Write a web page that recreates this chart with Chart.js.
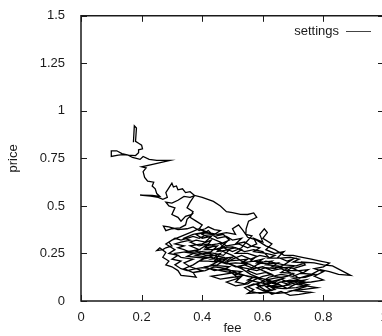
<!DOCTYPE html>
<html>
<head>
<meta charset="utf-8">
<script src="https://cdn.jsdelivr.net/npm/chart.js@4"></script>
<style>
  html, body { margin: 0; padding: 0; background: #fff; overflow: hidden; width: 382px; height: 336px; }
  #wrap { width: 400px; height: 336px; }
</style>
</head>
<body>
<div id="wrap"><canvas id="chart" width="400" height="336"></canvas></div>
<script>
// axis ticks
const feeTicks = [0, 0.2, 0.4, 0.6, 0.8, 1];
const priceTicks = [0, 0.25, 0.5, 0.75, 1, 1.25, 1.5];
const seriesName = 'settings';

// trajectory, [fee, price]
const topPath = [
    [0.173, 0.835], [0.176, 0.922], [0.183, 0.91], [0.18, 0.84], [0.19, 0.83], [0.20, 0.82],
    [0.203, 0.80], [0.19, 0.795], [0.19, 0.78], [0.18, 0.765], [0.156, 0.767], [0.14, 0.77],
    [0.123, 0.767], [0.10, 0.76], [0.10, 0.79], [0.118, 0.79], [0.135, 0.775], [0.156, 0.767],
    [0.17, 0.755], [0.195, 0.745], [0.205, 0.76], [0.225, 0.745], [0.25, 0.74], [0.294, 0.74],
    [0.24, 0.72], [0.20, 0.706], [0.215, 0.70], [0.205, 0.68], [0.21, 0.65], [0.22, 0.63],
    [0.24, 0.625], [0.235, 0.605], [0.245, 0.59], [0.25, 0.565], [0.26, 0.55], [0.235, 0.555],
    [0.195, 0.557], [0.23, 0.552], [0.255, 0.545], [0.27, 0.535], [0.285, 0.545], [0.28, 0.57],
    [0.29, 0.595], [0.30, 0.62], [0.305, 0.60], [0.315, 0.605], [0.32, 0.585], [0.335, 0.59],
    [0.345, 0.57], [0.36, 0.575], [0.375, 0.555], [0.36, 0.545], [0.34, 0.55], [0.32, 0.53],
    [0.30, 0.515], [0.28, 0.52], [0.29, 0.50]
];
const midPath = [
    [0.31, 0.49], [0.30, 0.455], [0.32, 0.44], [0.33, 0.42], [0.345, 0.445], [0.366, 0.455],
    [0.35, 0.43], [0.345, 0.40], [0.327, 0.385], [0.30, 0.38], [0.28, 0.37], [0.272, 0.394],
    [0.29, 0.39], [0.32, 0.375], [0.35, 0.38], [0.37, 0.39], [0.39, 0.37], [0.41, 0.38],
    [0.42, 0.39], [0.44, 0.375], [0.46, 0.37], [0.44, 0.35], [0.41, 0.345], [0.39, 0.33],
    [0.37, 0.34], [0.35, 0.33], [0.33, 0.32], [0.31, 0.33], [0.29, 0.31]
];
const cloudPath = [
    [0.30, 0.29], [0.28, 0.28], [0.27, 0.27], [0.25, 0.265], [0.26, 0.28], [0.28, 0.255],
    [0.27, 0.23], [0.29, 0.21], [0.28, 0.19], [0.30, 0.18], [0.32, 0.16], [0.33, 0.135],
    [0.36, 0.13], [0.38, 0.125], [0.37, 0.15], [0.40, 0.16], [0.36, 0.18], [0.34, 0.20],
    [0.37, 0.22], [0.33, 0.23], [0.31, 0.25], [0.35, 0.26], [0.39, 0.27], [0.36, 0.29],
    [0.40, 0.30], [0.43, 0.32], [0.41, 0.28], [0.45, 0.29], [0.43, 0.26], [0.38, 0.24],
    [0.42, 0.23], [0.46, 0.25], [0.44, 0.21], [0.48, 0.22], [0.45, 0.19], [0.41, 0.18],
    [0.44, 0.16], [0.48, 0.17], [0.51, 0.15], [0.47, 0.14], [0.43, 0.13], [0.46, 0.115],
    [0.50, 0.125], [0.53, 0.13], [0.51, 0.10], [0.54, 0.09], [0.56, 0.11], [0.59, 0.095],
    [0.55, 0.075], [0.57, 0.06], [0.55, 0.04], [0.60, 0.045], [0.63, 0.055], [0.61, 0.075],
    [0.65, 0.085], [0.62, 0.10], [0.66, 0.115], [0.69, 0.095], [0.72, 0.085], [0.78, 0.07],
    [0.73, 0.06], [0.70, 0.055], [0.76, 0.045], [0.72, 0.035], [0.69, 0.03], [0.66, 0.05],
    [0.63, 0.035], [0.60, 0.065], [0.58, 0.085], [0.62, 0.125], [0.66, 0.14], [0.70, 0.13],
    [0.73, 0.15], [0.70, 0.17], [0.74, 0.19], [0.73, 0.205], [0.77, 0.20], [0.80, 0.19],
    [0.83, 0.185], [0.86, 0.16], [0.89, 0.135], [0.85, 0.14], [0.82, 0.155], [0.79, 0.165],
    [0.76, 0.14], [0.72, 0.12], [0.69, 0.15], [0.66, 0.17], [0.63, 0.16], [0.60, 0.18],
    [0.57, 0.17], [0.54, 0.19], [0.51, 0.18], [0.48, 0.20], [0.50, 0.22], [0.53, 0.24],
    [0.56, 0.22], [0.59, 0.24], [0.62, 0.23], [0.60, 0.26], [0.57, 0.27], [0.54, 0.26],
    [0.51, 0.28], [0.48, 0.27], [0.46, 0.30], [0.49, 0.32], [0.47, 0.35], [0.44, 0.34],
    [0.42, 0.37], [0.40, 0.35], [0.43, 0.33], [0.46, 0.31], [0.48, 0.29], [0.52, 0.30],
    [0.55, 0.28], [0.58, 0.30], [0.57, 0.33], [0.60, 0.31], [0.59, 0.35], [0.605, 0.38],
    [0.615, 0.36], [0.60, 0.33], [0.63, 0.30], [0.61, 0.27], [0.64, 0.25], [0.67, 0.26],
    [0.65, 0.23], [0.68, 0.21], [0.70, 0.22], [0.67, 0.19], [0.64, 0.20], [0.61, 0.21],
    [0.58, 0.19], [0.55, 0.16], [0.58, 0.14], [0.61, 0.15], [0.64, 0.13], [0.67, 0.12],
    [0.64, 0.10], [0.61, 0.09], [0.64, 0.07], [0.67, 0.08], [0.70, 0.10], [0.74, 0.11],
    [0.71, 0.09], [0.68, 0.065], [0.65, 0.09], [0.62, 0.11], [0.59, 0.12], [0.56, 0.14],
    [0.53, 0.17], [0.50, 0.19], [0.46, 0.21], [0.43, 0.23], [0.40, 0.22], [0.37, 0.19],
    [0.34, 0.17], [0.37, 0.15], [0.41, 0.16], [0.44, 0.18], [0.48, 0.17], [0.52, 0.12],
    [0.48, 0.10], [0.51, 0.08], [0.55, 0.09], [0.57, 0.11], [0.60, 0.13], [0.63, 0.14],
    [0.60, 0.16], [0.56, 0.19], [0.53, 0.21], [0.50, 0.24], [0.47, 0.26], [0.45, 0.27],
    [0.47, 0.28], [0.50, 0.26], [0.53, 0.28], [0.54, 0.30], [0.564, 0.342], [0.544, 0.35],
    [0.545, 0.38], [0.553, 0.42], [0.58, 0.44], [0.57, 0.463], [0.55, 0.455], [0.526, 0.456],
    [0.50, 0.465], [0.48, 0.47], [0.46, 0.50], [0.437, 0.524], [0.40, 0.545], [0.375, 0.555]
];
const densePath = [
    [0.36, 0.52], [0.35, 0.49], [0.37, 0.47], [0.36, 0.44], [0.38, 0.42], [0.40, 0.40],
    [0.39, 0.38], [0.41, 0.36], [0.38, 0.35], [0.40, 0.33], [0.43, 0.34], [0.41, 0.31],
    [0.38, 0.32], [0.36, 0.31], [0.39, 0.29], [0.42, 0.30], [0.44, 0.29], [0.41, 0.27],
    [0.44, 0.27], [0.47, 0.285], [0.45, 0.26], [0.49, 0.27], [0.47, 0.24], [0.44, 0.25],
    [0.40, 0.26], [0.35, 0.255], [0.39, 0.245], [0.42, 0.25], [0.45, 0.235], [0.43, 0.22],
    [0.47, 0.225], [0.50, 0.23], [0.48, 0.21], [0.52, 0.215], [0.55, 0.22], [0.53, 0.20],
    [0.57, 0.21], [0.60, 0.22], [0.58, 0.20], [0.62, 0.195], [0.65, 0.20], [0.63, 0.18],
    [0.67, 0.175], [0.70, 0.18], [0.68, 0.16], [0.72, 0.16], [0.75, 0.165], [0.73, 0.145],
    [0.77, 0.14], [0.74, 0.125], [0.70, 0.12], [0.73, 0.105], [0.69, 0.11], [0.66, 0.10],
    [0.69, 0.085], [0.65, 0.075], [0.62, 0.08], [0.64, 0.06], [0.60, 0.055], [0.58, 0.07],
    [0.61, 0.09], [0.58, 0.10], [0.55, 0.11], [0.57, 0.125], [0.54, 0.135], [0.51, 0.14],
    [0.53, 0.155], [0.50, 0.16], [0.47, 0.165], [0.49, 0.18], [0.46, 0.185], [0.43, 0.19],
    [0.45, 0.205], [0.42, 0.21], [0.39, 0.21], [0.41, 0.225], [0.38, 0.23], [0.35, 0.235],
    [0.37, 0.25], [0.34, 0.27], [0.32, 0.28], [0.34, 0.29], [0.31, 0.30], [0.33, 0.31],
    [0.36, 0.32], [0.34, 0.33], [0.37, 0.35], [0.40, 0.36], [0.43, 0.355], [0.45, 0.33],
    [0.48, 0.34], [0.50, 0.32], [0.53, 0.33], [0.51, 0.30], [0.54, 0.31], [0.56, 0.29],
    [0.59, 0.28], [0.57, 0.26], [0.61, 0.25], [0.64, 0.24], [0.62, 0.225], [0.66, 0.225],
    [0.69, 0.23], [0.72, 0.22], [0.70, 0.205], [0.74, 0.20], [0.71, 0.185], [0.67, 0.19],
    [0.64, 0.17], [0.61, 0.175], [0.58, 0.16], [0.55, 0.17], [0.52, 0.18], [0.55, 0.195],
    [0.51, 0.20], [0.48, 0.195], [0.45, 0.21], [0.47, 0.23], [0.44, 0.24], [0.41, 0.24],
    [0.38, 0.26], [0.41, 0.29], [0.45, 0.30], [0.48, 0.31], [0.46, 0.28], [0.50, 0.285],
    [0.53, 0.27], [0.51, 0.25], [0.55, 0.25], [0.58, 0.235], [0.56, 0.21], [0.60, 0.205],
    [0.63, 0.21], [0.61, 0.19], [0.65, 0.185], [0.68, 0.17], [0.66, 0.15], [0.70, 0.145],
    [0.68, 0.13], [0.64, 0.12], [0.61, 0.11], [0.63, 0.095], [0.60, 0.08], [0.57, 0.09],
    [0.54, 0.07], [0.56, 0.05], [0.59, 0.04], [0.62, 0.045], [0.65, 0.04], [0.68, 0.045],
    [0.71, 0.06], [0.74, 0.075], [0.71, 0.10], [0.67, 0.105], [0.64, 0.09], [0.61, 0.10],
    [0.58, 0.12], [0.55, 0.13], [0.52, 0.145], [0.49, 0.15], [0.46, 0.16], [0.43, 0.17],
    [0.40, 0.175], [0.38, 0.17], [0.35, 0.16], [0.33, 0.17], [0.31, 0.19], [0.33, 0.21],
    [0.30, 0.22], [0.32, 0.24], [0.29, 0.25], [0.31, 0.27], [0.28, 0.30], [0.30, 0.32],
    [0.33, 0.34], [0.36, 0.36], [0.39, 0.38], [0.42, 0.36], [0.45, 0.35], [0.48, 0.36],
    [0.51, 0.35], [0.50, 0.38], [0.52, 0.40], [0.535, 0.37], [0.55, 0.335], [0.58, 0.32],
    [0.61, 0.29], [0.64, 0.27], [0.67, 0.24], [0.70, 0.24], [0.73, 0.23], [0.76, 0.22],
    [0.79, 0.21], [0.82, 0.20], [0.80, 0.18], [0.77, 0.17], [0.80, 0.155], [0.77, 0.13],
    [0.80, 0.11], [0.76, 0.10], [0.72, 0.095], [0.75, 0.085], [0.71, 0.07], [0.67, 0.065],
    [0.63, 0.07], [0.60, 0.10]
];

const points = topPath.concat(midPath, cloudPath, densePath).map(p => ({ x: p[0], y: p[1] }));

const FONT = 'Liberation Sans, Arial, Helvetica, sans-serif';
const INK = '#1a1a1a';

// gnuplot-style frame: top border, inward ticks on all four sides, legend at top right
const framePlugin = {
    id: 'frame',
    afterDraw(chart) {
        const { ctx, chartArea: a, scales } = chart;
        ctx.save();
        ctx.strokeStyle = INK;
        ctx.lineWidth = 1.5;
        ctx.beginPath();
        ctx.moveTo(a.left, a.bottom);
        ctx.lineTo(a.left, a.top);
        ctx.lineTo(a.right, a.top);
        ctx.lineTo(a.right, a.bottom);
        ctx.closePath();
        ctx.stroke();

        ctx.lineWidth = 1;
        ctx.beginPath();
        feeTicks.forEach(v => {
            const x = Math.round(scales.x.getPixelForValue(v)) + 0.5;
            ctx.moveTo(x, a.bottom); ctx.lineTo(x, a.bottom - 6);
            ctx.moveTo(x, a.top); ctx.lineTo(x, a.top + 6);
        });
        priceTicks.forEach(v => {
            const y = Math.round(scales.y.getPixelForValue(v)) + 0.5;
            ctx.moveTo(a.left, y); ctx.lineTo(a.left + 6, y);
            ctx.moveTo(a.right, y); ctx.lineTo(a.right - 6, y);
        });
        ctx.stroke();

        // legend
        ctx.fillStyle = INK;
        ctx.font = '13px ' + FONT;
        ctx.textAlign = 'right';
        ctx.textBaseline = 'middle';
        ctx.fillText(seriesName, 339, 31);
        ctx.strokeStyle = '#444';
        ctx.beginPath();
        ctx.moveTo(346, 31.5);
        ctx.lineTo(371, 31.5);
        ctx.stroke();
        ctx.restore();
    }
};

new Chart(document.getElementById('chart'), {
    type: 'scatter',
    data: {
        datasets: [{
            label: seriesName,
            data: points,
            showLine: true,
            borderColor: '#000',
            borderWidth: 1.3,
            pointRadius: 0,
            tension: 0
        }]
    },
    options: {
        responsive: false,
        devicePixelRatio: 1,
        animation: false,
        layout: { padding: { top: 12, right: 16, left: 0, bottom: 0 } },
        plugins: { legend: { display: false }, tooltip: { enabled: false } },
        scales: {
            x: {
                type: 'linear', min: 0, max: 1,
                afterFit: s => { s.height = 35; },
                afterBuildTicks: s => { s.ticks = feeTicks.map(v => ({ value: v })); },
                grid: { display: false },
                border: { display: false },
                ticks: {
                    color: INK, padding: 1, maxRotation: 0,
                    font: { family: FONT, size: 13 },
                    callback: v => String(+v.toFixed(2))
                },
                title: {
                    display: true, text: 'fee', color: INK,
                    font: { family: FONT, size: 13 },
                    padding: { top: 0, bottom: 0 }
                }
            },
            y: {
                type: 'linear', min: 0, max: 1.5,
                afterFit: s => { s.width = 81; },
                afterBuildTicks: s => { s.ticks = priceTicks.map(v => ({ value: v })); },
                grid: { display: false },
                border: { display: false },
                ticks: {
                    color: INK, padding: 8,
                    font: { family: FONT, size: 13 },
                    callback: v => String(+v.toFixed(2))
                },
                title: {
                    display: true, text: 'price', color: INK,
                    font: { family: FONT, size: 13 },
                    padding: { top: 6, bottom: 0 }
                }
            }
        }
    },
    plugins: [framePlugin]
});
</script>
</body>
</html>
